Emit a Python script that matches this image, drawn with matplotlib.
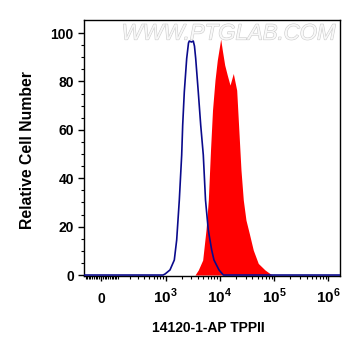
"""
Flow cytometry histogram: 14120-1-AP TPPII vs isotype control.
"""

import matplotlib
matplotlib.use("Agg")
import matplotlib.pyplot as plt
import matplotlib.patheffects as pe
import numpy as np

plt.rcParams.update({
    "font.family": ["Liberation Sans", "DejaVu Sans"],
    "font.weight": "bold",
    "mathtext.fontset": "custom",
    "mathtext.rm": "Liberation Sans:bold",
    "mathtext.bf": "Liberation Sans:bold",
})

# ------------------------------------------------------------------
# Data (intensity, % of max)
# ------------------------------------------------------------------
stained_x = [3500, 4025, 4850, 5580, 6160, 6760, 7360, 8180, 9010, 10410,
             11140, 12340, 13770, 15460, 17770, 20520, 21970, 24620, 27160,
             30420, 35000, 41470, 51220, 68100, 91700]
stained_y = [0, 2.1, 6.2, 18.6, 31, 51.7, 68.2, 80.6, 88.8, 97.5,
             93, 86.8, 82.6, 78.5, 83.3, 76.4, 64, 43.4, 31,
             22.7, 17.2, 10.3, 4.8, 2.1, 0]

control_x = [-100, 896, 976, 1209, 1453, 1608, 1798, 1989, 2076, 2223, 2460,
             2656, 2748, 3017, 3255, 3424, 3606, 4022, 4458, 4978, 5467,
             6149, 7111, 7833, 9685, 11635, 1.6e6]
control_y = [0, 0, 0.4, 2.1, 6.2, 14.5, 31, 49.6, 62, 75.7, 89.5,
             95.9, 96.7, 96.3, 96.7, 94.6, 89.5, 75.7, 62, 49.6, 31,
             18.6, 10.3, 6.2, 2.1, 0, 0]

x_major = [0, 1e3, 1e4, 1e5, 1e6]
x_major_labels = ["0", r"$10^{3}$", r"$10^{4}$", r"$10^{5}$", r"$10^{6}$"]
y_major = [0, 20, 40, 60, 80, 100]

# logicle-like display: asinh with a linear zone around zero
_C = 130.0


def _fwd(x):
    return np.arcsinh(np.asarray(x, dtype=float) / _C)


def _inv(y):
    return _C * np.sinh(np.asarray(y, dtype=float))


fig = plt.figure(figsize=(3.61, 3.56), dpi=100)
ax = fig.add_axes([84 / 361, 80 / 356, 256 / 361, 256 / 356])

ax.set_xscale("function", functions=(_fwd, _inv))
ax.set_xlim(-102, 1.64e6)
ax.set_ylim(-0.4, 105.4)

ax.fill_between(stained_x, stained_y, 0, color="#ff0000", linewidth=0, zorder=2)
ax.plot(control_x, control_y, color="#0a0a8c", linewidth=1.2, zorder=3)

# x ticks
minor = []
for k in range(1, 10):
    minor += [-10 * k, 10 * k, 100 * k]
for dec in (1e3, 1e4, 1e5):
    minor += [dec * k for k in range(2, 10)]
ax.set_xticks(x_major)
ax.set_xticklabels(x_major_labels)
ax.set_xticks(minor, minor=True)
ax.tick_params(axis="x", which="major", length=3.6, width=1, pad=15.5,
               labelsize=11, direction="out")
ax.tick_params(axis="x", which="minor", length=1.8, width=0.8, direction="out")
for i, lab in enumerate(ax.get_xticklabels()):
    lab.set_verticalalignment("baseline")
    if i == 0:
        lab.set_fontsize(10)

# y ticks
ax.set_yticks(y_major)
ax.set_yticks(np.arange(5, 105, 5), minor=True)
ax.tick_params(axis="y", which="major", length=4.3, width=1, pad=3,
               labelsize=10, direction="out")
ax.tick_params(axis="y", which="minor", length=2.2, width=0.8, direction="out")

for sp in ax.spines.values():
    sp.set_linewidth(1)

ax.set_ylabel("Relative Cell Number", fontsize=11.3, fontweight="bold")
ax.yaxis.set_label_coords(-0.19, 0.49)
ax.set_xlabel("14120-1-AP TPPII", fontsize=10, fontweight="bold")
ax.xaxis.set_label_coords(0.484, -0.175)

# watermark
ax.text(0.565, 0.945, "WWW.PTGLAB.COM", transform=ax.transAxes,
        ha="center", va="center", fontsize=16, fontweight="normal",
        style="italic", color="#f8f8f8", zorder=1,
        path_effects=[pe.withStroke(linewidth=0.8, foreground="#cccccc")])

fig.savefig("out.png", dpi=100)
